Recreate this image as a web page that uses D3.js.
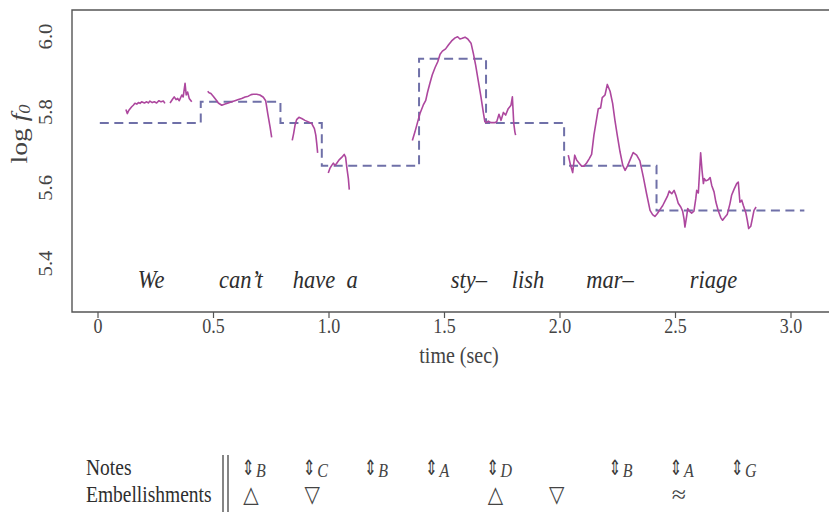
<!DOCTYPE html>
<html>
<head>
<meta charset="utf-8">
<script src="https://cdn.jsdelivr.net/npm/d3@7"></script>
<style>
  html, body { margin: 0; padding: 0; background: #fff; }
  svg { display: block; }
</style>
</head>
<body>
<svg id="chart" width="829" height="512"></svg>
<script>
// Axis ticks
const timeTicks = [0, 0.5, 1.0, 1.5, 2.0, 2.5, 3.0];
const timeTickLabels = ["0", "0.5", "1.0", "1.5", "2.0", "2.5", "3.0"];
const logTicks = [5.4, 5.6, 5.8, 6.0];
const logTickLabels = ["5.4", "5.6", "5.8", "6.0"];

// Sung syllables and the time (sec) each one is centred on
const syllables = ["We", "can\u2019t", "have", "a", "sty\u2013", "lish", "mar\u2013", "riage"];
const syllableTimes = [0.232, 0.621, 0.937, 1.102, 1.608, 1.864, 2.219, 2.667];

// Intended note steps: start time of each note, its log f0 level, final end time
const noteStarts = [0.01, 0.447, 0.792, 0.971, 1.392, 1.682, 2.02, 2.42];
const noteLevels = [5.77, 5.826, 5.77, 5.657, 5.94, 5.77, 5.657, 5.539];
const noteEnd = 3.06;

// Measured log f0 contour, one array per voiced stretch: [time, log f0]
const contourWe1 = [[0.123,5.806],[0.129,5.795],[0.136,5.804],[0.148,5.813],[0.155,5.817],[0.162,5.822],[0.170,5.820],[0.177,5.824],[0.184,5.822],[0.191,5.826],[0.203,5.823],[0.213,5.826],[0.220,5.823],[0.227,5.828],[0.237,5.824],[0.246,5.826],[0.256,5.823],[0.266,5.829],[0.275,5.826],[0.285,5.828],[0.292,5.822]];
const contourWe2 = [[0.314,5.823],[0.324,5.832],[0.332,5.839],[0.340,5.832],[0.347,5.835],[0.354,5.829],[0.365,5.844],[0.371,5.839],[0.379,5.875],[0.384,5.844],[0.390,5.852],[0.397,5.835],[0.408,5.826]];
const contourCant = [[0.477,5.854],[0.483,5.850],[0.491,5.848],[0.501,5.841],[0.512,5.832],[0.523,5.823],[0.538,5.817],[0.552,5.820],[0.566,5.823],[0.581,5.826],[0.595,5.829],[0.610,5.832],[0.624,5.835],[0.639,5.839],[0.653,5.841],[0.665,5.845],[0.674,5.846],[0.689,5.846],[0.703,5.844],[0.718,5.838],[0.728,5.829],[0.737,5.795],[0.747,5.760],[0.754,5.732]];
const contourHave = [[0.843,5.724],[0.849,5.742],[0.855,5.764],[0.862,5.779],[0.872,5.785],[0.884,5.782],[0.898,5.777],[0.913,5.773],[0.927,5.769],[0.939,5.755],[0.945,5.738],[0.949,5.716],[0.953,5.691]];
const contourA = [[0.999,5.638],[1.006,5.650],[1.014,5.658],[1.021,5.664],[1.028,5.658],[1.035,5.663],[1.045,5.672],[1.057,5.679],[1.068,5.687],[1.074,5.680],[1.079,5.654],[1.086,5.623],[1.090,5.594]];
const contourStylish = [[1.363,5.724],[1.374,5.746],[1.386,5.773],[1.396,5.795],[1.410,5.817],[1.421,5.830],[1.429,5.852],[1.439,5.875],[1.449,5.897],[1.461,5.916],[1.473,5.932],[1.483,5.952],[1.493,5.960],[1.507,5.966],[1.519,5.976],[1.533,5.987],[1.548,5.995],[1.559,5.998],[1.569,5.992],[1.579,5.994],[1.591,5.997],[1.603,5.992],[1.617,5.981],[1.627,5.954],[1.637,5.923],[1.648,5.883],[1.660,5.839],[1.670,5.799],[1.677,5.773],[1.685,5.771],[1.692,5.775],[1.703,5.771],[1.718,5.771],[1.728,5.773],[1.738,5.793],[1.747,5.777],[1.757,5.798],[1.767,5.791],[1.778,5.808],[1.790,5.817],[1.796,5.839],[1.802,5.769],[1.807,5.746],[1.810,5.738]];
const contourMarriage = [[2.038,5.685],[2.048,5.658],[2.057,5.639],[2.066,5.685],[2.074,5.672],[2.086,5.663],[2.096,5.656],[2.106,5.656],[2.118,5.665],[2.129,5.676],[2.139,5.687],[2.149,5.738],[2.161,5.782],[2.168,5.808],[2.178,5.810],[2.185,5.837],[2.197,5.844],[2.207,5.872],[2.219,5.854],[2.230,5.822],[2.240,5.777],[2.250,5.738],[2.262,5.694],[2.274,5.658],[2.284,5.645],[2.294,5.656],[2.305,5.672],[2.319,5.692],[2.334,5.685],[2.348,5.670],[2.363,5.627],[2.377,5.583],[2.392,5.539],[2.403,5.528],[2.413,5.523],[2.423,5.530],[2.435,5.541],[2.447,5.552],[2.457,5.564],[2.467,5.576],[2.475,5.590],[2.486,5.583],[2.496,5.592],[2.504,5.579],[2.514,5.558],[2.525,5.548],[2.533,5.537],[2.539,5.517],[2.543,5.495],[2.551,5.526],[2.555,5.544],[2.562,5.537],[2.572,5.532],[2.582,5.537],[2.590,5.570],[2.594,5.592],[2.601,5.585],[2.605,5.627],[2.611,5.691],[2.617,5.645],[2.623,5.610],[2.627,5.623],[2.634,5.617],[2.644,5.620],[2.652,5.626],[2.659,5.605],[2.669,5.588],[2.677,5.561],[2.687,5.539],[2.698,5.520],[2.706,5.513],[2.716,5.521],[2.726,5.528],[2.738,5.557],[2.745,5.579],[2.755,5.594],[2.767,5.610],[2.774,5.614],[2.781,5.561],[2.789,5.566],[2.796,5.552],[2.807,5.532],[2.813,5.513],[2.819,5.491],[2.828,5.497],[2.836,5.521],[2.842,5.539],[2.851,5.548]];
const contours = [contourWe1, contourWe2, contourCant, contourHave, contourA, contourStylish, contourMarriage];

// Transcription table: one column per note event
const noteNames = ["B", "C", "B", "A", "D", "", "B", "A", "G"];
const embellishments = ["\u25B3", "\u25BD", "", "", "\u25B3", "\u25BD", "", "\u2248", ""];

const svg = d3.select("#chart");
const SERIF = "'Liberation Serif', 'Times New Roman', serif";
const STRETCH = 1.15;   // tall, narrow lettering
const INK = "#444";

const x = d3.scaleLinear().domain([0, 3]).range([97.5, 790.5]);
const y = d3.scaleLinear().domain([5.4, 6.0]).range([263, 36]);

const frame = { left: 72, top: 10, bottom: 312, right: 840 };

// Plot frame (open to the right edge)
svg.append("path")
  .attr("d", `M${frame.right},${frame.top}H${frame.left}V${frame.bottom}H${frame.right}`)
  .attr("fill", "none").attr("stroke", "#555").attr("stroke-width", 1.4);

// x axis
const gx = svg.append("g")
  .attr("transform", `translate(0,${frame.bottom})`)
  .call(d3.axisBottom(x).tickValues(timeTicks)
        .tickFormat((d, i) => timeTickLabels[i]).tickSize(6).tickSizeOuter(0));
gx.select(".domain").remove();
gx.selectAll(".tick line").attr("stroke", "#555").attr("stroke-width", 1.2);
gx.selectAll(".tick text")
  .attr("y", null).attr("dy", null)
  .attr("transform", `translate(0,21) scale(1,${STRETCH})`)
  .attr("font-family", SERIF).attr("font-size", 18).attr("fill", INK);

// y axis with rotated labels
const gy = svg.append("g")
  .attr("transform", `translate(${frame.left},0)`)
  .call(d3.axisLeft(y).tickValues(logTicks)
        .tickFormat((d, i) => logTickLabels[i]).tickSize(0).tickSizeOuter(0));
gy.select(".domain").remove();
gy.selectAll(".tick text")
  .attr("x", null).attr("dy", null).attr("text-anchor", "middle")
  .attr("transform", `translate(-20,0) scale(1,${STRETCH}) rotate(-90)`)
  .attr("font-family", SERIF).attr("font-size", 18).attr("fill", INK);

// Axis titles
svg.append("text")
  .attr("transform", `translate(459,363) scale(1,${STRETCH})`)
  .attr("text-anchor", "middle")
  .attr("font-family", SERIF).attr("font-size", 20).attr("fill", INK)
  .text("time (sec)");

const yTitle = svg.append("text")
  .attr("transform", `translate(27,134) scale(1,${STRETCH}) rotate(-90)`)
  .attr("text-anchor", "middle")
  .attr("font-family", SERIF).attr("font-size", 24).attr("fill", INK);
yTitle.append("tspan").text("log ");
yTitle.append("tspan").attr("font-style", "italic").text("f");
yTitle.append("tspan").attr("font-style", "italic").attr("font-size", 16).attr("dy", 3).text("0");

// Intended notes as a dashed step line
const steps = noteStarts.map((t, i) => [t, noteLevels[i]]);
steps.push([noteEnd, noteLevels[noteLevels.length - 1]]);
svg.append("path")
  .datum(steps)
  .attr("d", d3.line().x(d => x(d[0])).y(d => y(d[1])).curve(d3.curveStepAfter))
  .attr("fill", "none")
  .attr("stroke", "#6f70a8")
  .attr("stroke-width", 2)
  .attr("stroke-dasharray", "9,5.5");

// Measured f0 contour
const contourLine = d3.line().x(d => x(d[0])).y(d => y(d[1]));
svg.append("g").selectAll("path")
  .data(contours)
  .join("path")
  .attr("d", contourLine)
  .attr("fill", "none")
  .attr("stroke", "#ad479e")
  .attr("stroke-width", 1.6)
  .attr("stroke-linejoin", "round");

// Lyrics along the bottom of the plot
svg.append("g").selectAll("text")
  .data(syllables)
  .join("text")
  .attr("transform", (d, i) => `translate(${x(syllableTimes[i])},288) scale(1,${STRETCH})`)
  .attr("text-anchor", "middle")
  .attr("font-family", SERIF).attr("font-style", "italic")
  .attr("font-size", 22.5).attr("fill", "#2e2e2e")
  .text(d => d);

// Transcription table
const col = d3.scalePoint().domain(d3.range(noteNames.length)).range([248, 737]);
const rowNotes = 475, rowEmb = 502;

[["Notes", rowNotes], ["Embellishments", rowEmb]].forEach(([label, yy]) => {
  svg.append("text")
    .attr("transform", `translate(86,${yy}) scale(1,${STRETCH})`)
    .attr("font-family", SERIF).attr("font-size", 19.5).attr("fill", "#2e2e2e")
    .text(label);
});

[223, 228].forEach(xx => {
  svg.append("line")
    .attr("x1", xx).attr("x2", xx).attr("y1", 455).attr("y2", 512)
    .attr("stroke", "#444").attr("stroke-width", 1.3);
});

const noteData = noteNames.map((n, i) => ({ n, i })).filter(d => d.n);

// Up/down double arrow, drawn tall
svg.append("g")
  .selectAll("text")
  .data(noteData)
  .join("text")
  .attr("transform", d => `translate(${col(d.i)},${rowNotes}) scale(1,1.4)`)
  .attr("text-anchor", "middle")
  .attr("font-family", "'DejaVu Sans', sans-serif").attr("font-size", 15)
  .attr("fill", "#3a3a3a")
  .text("\u21D5");

// Note name as an italic subscript
svg.append("g").selectAll("text")
  .data(noteData)
  .join("text")
  .attr("transform", d => `translate(${col(d.i) + 8},${rowNotes + 2}) scale(1,${STRETCH})`)
  .attr("font-family", SERIF).attr("font-style", "italic").attr("font-size", 16)
  .attr("fill", "#444")
  .text(d => d.n);

// Embellishment marks; the wavy sign is widened to read at the same weight
svg.append("g").selectAll("text")
  .data(embellishments.map((e, i) => ({ e, i })).filter(d => d.e))
  .join("text")
  .attr("transform", d => d.e === "\u2248"
    ? `translate(${col(d.i) + 3},${rowEmb}) scale(1.3,${STRETCH})`
    : `translate(${col(d.i) + 3},${rowEmb}) scale(1,${STRETCH})`)
  .attr("text-anchor", "middle")
  .attr("font-family", d => d.e === "\u2248" ? SERIF : "'DejaVu Sans', sans-serif")
  .attr("font-size", 20)
  .attr("fill", "#444")
  .text(d => d.e);
</script>
</body>
</html>
